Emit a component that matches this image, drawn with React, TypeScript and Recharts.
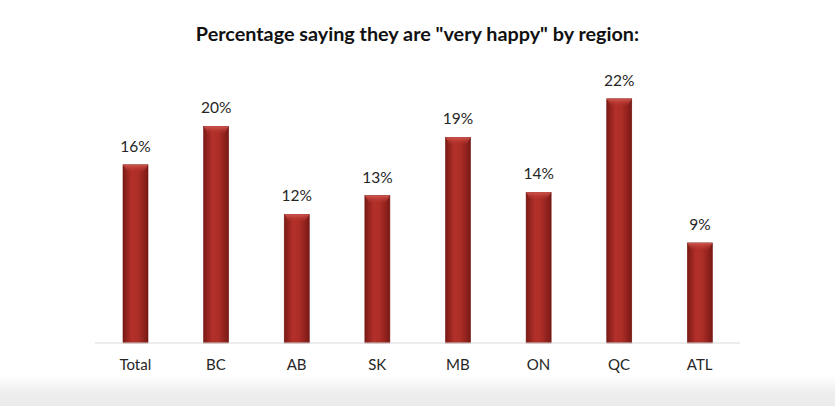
import React from "react";
import { BarChart, Bar, XAxis, YAxis, LabelList } from "recharts";

const regions = ["Total", "BC", "AB", "SK", "MB", "ON", "QC", "ATL"];
// shown as rounded percentages; bar heights
const veryHappy = [16.2, 19.7, 11.7, 13.4, 18.7, 13.7, 22.2, 9.1];

const data = regions.map((region, i) => ({ region, value: veryHappy[i] }));

const CylinderBar = (props: any) => {
  const { x, y, width, height } = props;
  if (!height || height <= 0) return null;
  const bevel = Math.min(7, height / 2);
  return (
    <g>
      <rect x={x} y={y} width={width} height={height} fill="url(#barGrad)" stroke="#6e1410" strokeWidth={0.6} />
      <path
        d={`M${x},${y} L${x + width},${y} L${x + width - 4},${y + bevel} L${x + 4},${y + bevel} Z`}
        fill="url(#topGrad)"
      />
    </g>
  );
};

export default function App() {
  return (
    <div
      style={{
        position: "fixed",
        left: 0,
        top: 0,
        width: 835,
        height: 406,
        background: "#fff",
        fontFamily: "Lato, sans-serif",
        overflow: "hidden",
      }}
    >
      <div
        style={{
          position: "absolute",
          left: 0,
          right: 0,
          bottom: 0,
          height: 30,
          background: "linear-gradient(#ffffff, #efefef 50%, #ebebeb)",
        }}
      />
      <div
        style={{
          position: "absolute",
          top: 20,
          width: 835,
          textAlign: "center",
          fontWeight: 700,
          fontSize: 19.8,
          lineHeight: "26px",
          color: "#111",
        }}
      >
        Percentage saying they are "very happy" by region:
      </div>
      <div style={{ position: "absolute", left: 0, top: 0 }}>
        <BarChart width={835} height={406} data={data} margin={{ top: 68, right: 95, bottom: 33, left: 95 }}>
          <defs>
            <linearGradient id="barGrad" x1="0" y1="0" x2="1" y2="0">
              <stop offset="0%" stopColor="#7c1a16" />
              <stop offset="35%" stopColor="#b3302a" />
              <stop offset="60%" stopColor="#ad2d27" />
              <stop offset="100%" stopColor="#7a1915" />
            </linearGradient>
            <linearGradient id="topGrad" x1="0" y1="0" x2="0" y2="1">
              <stop offset="0%" stopColor="#d0564e" />
              <stop offset="100%" stopColor="#b3302a" stopOpacity={0.2} />
            </linearGradient>
          </defs>
          <XAxis
            dataKey="region"
            height={30}
            tickLine={false}
            tickSize={0}
            tickMargin={16}
            axisLine={{ stroke: "#d9d9d9" }}
            tick={{ fill: "#262626", fontSize: 15 }}
          />
          <YAxis hide domain={[0, 25]} />
          <Bar dataKey="value" barSize={25} shape={<CylinderBar />} isAnimationActive={false}>
            <LabelList
              dataKey="value"
              position="top"
              offset={13}
              formatter={(v: any) => `${Math.round(v)}%`}
              style={{ fill: "#262626", fontSize: 15.5 }}
            />
          </Bar>
        </BarChart>
      </div>
    </div>
  );
}
